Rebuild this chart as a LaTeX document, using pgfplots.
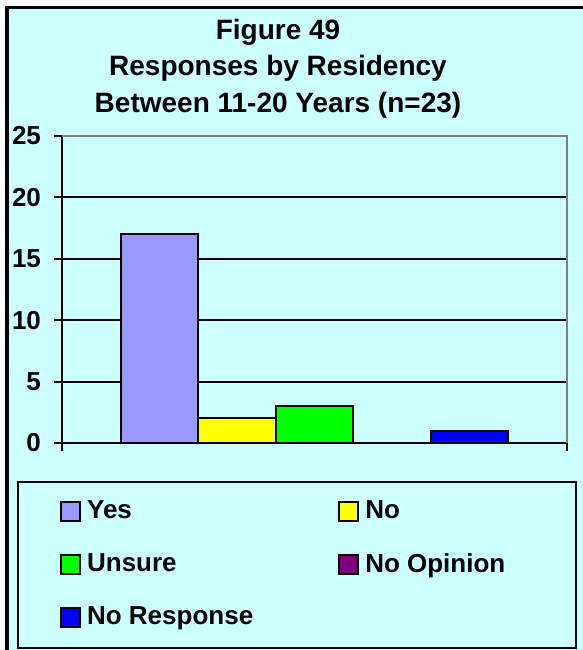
\documentclass[border=0pt]{standalone}
\usepackage{fontspec}
\setmainfont{Liberation Sans}
\usepackage{pgfplots}
\pgfplotsset{compat=1.18}

\definecolor{bgcyan}{HTML}{CCFFFF}
\definecolor{yescol}{HTML}{9999FF}
\definecolor{nocol}{HTML}{FFFF00}
\definecolor{unsurecol}{HTML}{00FF00}
\definecolor{opincol}{HTML}{800080}
\definecolor{nrcol}{HTML}{0000FF}
\definecolor{framegray}{HTML}{808080}

\newcommand{\chartfont}{\fontsize{13}{15}\selectfont\bfseries}
\newcommand{\titlefont}{\fontsize{14}{16}\selectfont\bfseries}

\begin{document}
\begin{tikzpicture}
% page is 583x650 px at 0.5pt per px
\path[use as bounding box] (0,0) rectangle (291.5pt,-325pt);
\fill[white] (0,0) rectangle (291.5pt,-325pt);
\clip (0,0) rectangle (291.5pt,-325pt);
\filldraw[fill=bgcyan, draw=black, line width=1.5pt] (3.5pt,-3.5pt) rectangle (330pt,-360pt);

\node[font=\titlefont, anchor=base] at (139pt,-19.5pt) {Figure 49};
\node[font=\titlefont, anchor=base] at (139pt,-37.75pt) {Responses by Residency};
\node[font=\titlefont, anchor=base] at (139pt,-56pt) {Between 11-20 Years (n=23)};

\begin{axis}[
    at={(31pt,-221.5pt)}, anchor=south west,
    scale only axis,
    width=252.5pt, height=153.5pt,
    clip=false,
    xmin=-1, xmax=1,
    ymin=0, ymax=25,
    ytick={0,5,...,25},
    xtick={-1,1},
    xticklabels={},
    axis lines=left,
    axis line style={-, black, line width=1pt},
    tick align=outside,
    major tick length=4pt,
    tick style={black, line width=1pt},
    ymajorgrids=true,
    grid style={black, line width=1pt},
    /pgf/number format/assume math mode=true,
    yticklabel style={font=\chartfont, xshift=-3pt},
    ybar=0pt,
    bar width=38.75pt,
    every axis plot/.append style={draw=black, line width=1pt},
    legend columns=2,
    legend cell align=left,
    legend image code/.code={
        \draw[#1, draw=black, line width=1pt] (0pt,-4.75pt) rectangle (9.5pt,4.75pt);
        \path (10.5pt,0pt);
    },
    legend style={
        at={(-0.0871,-0.127)}, anchor=north west,
        fill=none, draw=none,
        font=\chartfont,
        inner xsep=20.85pt, inner ysep=7.25pt,
        row sep=11.75pt,
        /tikz/every even column/.append style={column sep=40.5pt},
    },
]
\addplot[fill=yescol] coordinates {(0,17)};
\addplot[fill=nocol] coordinates {(0,2)};
\addplot[fill=unsurecol] coordinates {(0,3)};
\addplot[fill=opincol] coordinates {(0,0)};
\addplot[fill=nrcol] coordinates {(0,1)};
\legend{Yes, No, Unsure, No Opinion, No Response}
\draw[framegray, line width=1pt] (rel axis cs:0,1) -- (rel axis cs:1,1) -- (rel axis cs:1,0);
% legend frame
\draw[black, line width=1pt] (rel axis cs:-0.0871,-0.127) rectangle (rel axis cs:1.0178,-0.6678);
\end{axis}
\end{tikzpicture}
\end{document}
